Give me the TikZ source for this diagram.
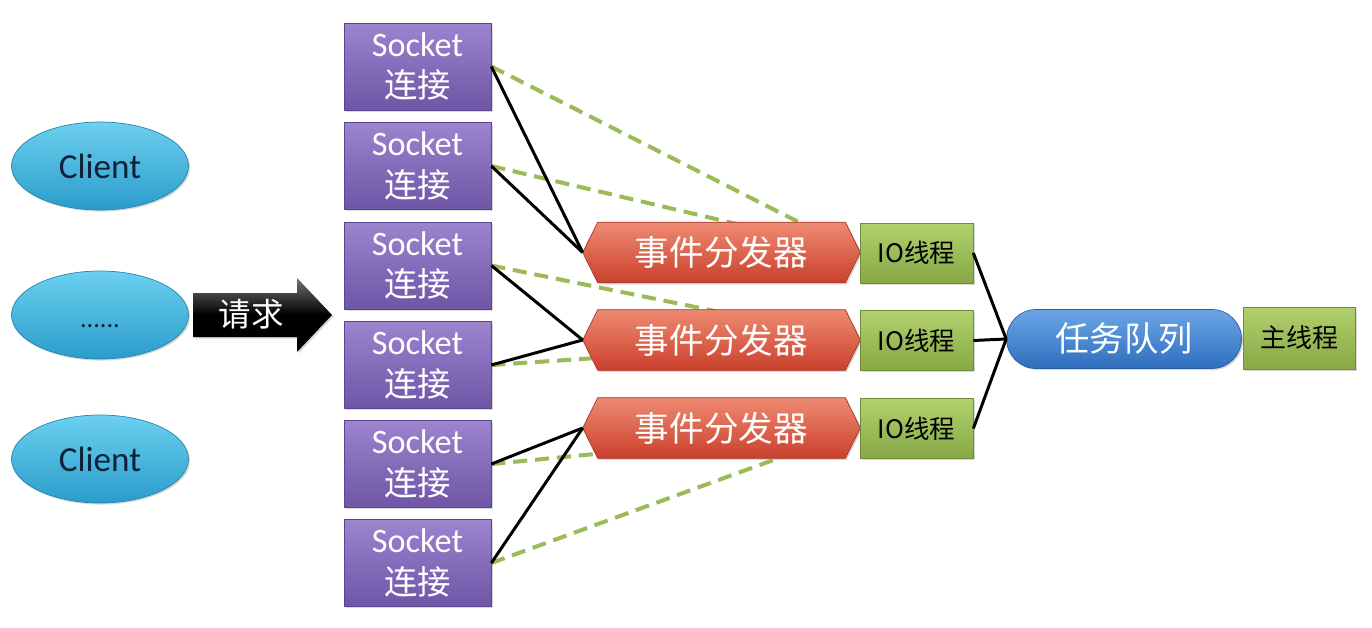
\documentclass[tikz,border=0pt]{standalone}
\usepackage{fontspec}
\setmainfont{Carlito}
\newfontfamily\cjk{Noto Sans CJK SC}
\usetikzlibrary{calc,backgrounds,shadows,shapes.geometric}
\definecolor{sockT}{HTML}{9C84CF}
\definecolor{sockB}{HTML}{6E55A6}
\definecolor{sockD}{HTML}{5A4690}
\definecolor{dispT}{HTML}{F08A72}
\definecolor{dispB}{HTML}{C9402C}
\definecolor{dispD}{HTML}{A8362A}
\definecolor{ioT}{HTML}{B2D06E}
\definecolor{ioB}{HTML}{86A845}
\definecolor{ioD}{HTML}{6F8C3A}
\definecolor{cliT}{HTML}{6CD0EE}
\definecolor{cliB}{HTML}{2A9CCB}
\definecolor{cliD}{HTML}{2486AE}
\definecolor{qT}{HTML}{6BA6E6}
\definecolor{qB}{HTML}{2F6EBE}
\definecolor{qD}{HTML}{2A5F9F}
\definecolor{dashG}{HTML}{9BBB59}
\definecolor{cliText}{HTML}{10203A}
\begin{document}
\begin{tikzpicture}[x=0.02cm,y=-0.02cm,
  shd/.style={drop shadow={shadow xshift=0.9pt,shadow yshift=-0.9pt,opacity=0.3}},
  sockbox/.style={rectangle,draw=sockD,line width=0.4pt,top color=sockT,bottom color=sockB,
    text=white,minimum width=2.94cm,minimum height=1.74cm,align=center,inner sep=0pt,shd,
    font=\fontsize{19.5}{23.5}\selectfont},
  iobox/.style={rectangle,draw=ioD,line width=0.4pt,top color=ioT,bottom color=ioB,
    text=black,minimum width=2.26cm,minimum height=1.2cm,inner sep=0pt,shd,
    font=\cjk\fontsize{14.5}{17}\selectfont},
  client/.style={ellipse,draw=cliD,line width=0.4pt,top color=cliT,bottom color=cliB,
    text=cliText,minimum width=3.54cm,minimum height=1.76cm,inner sep=0pt,shd,
    font=\fontsize{20}{24}\selectfont},
  dispnode/.style={rectangle,draw=none,minimum width=5.54cm,minimum height=1.2cm,inner sep=0pt,
    text=white,font=\cjk\fontsize{19.7}{23}\selectfont},
  dispfill/.style={draw=dispD,line width=0.4pt,top color=dispT,bottom color=dispB,shd},
  blk/.style={draw=black,line width=1.7pt},
  gdash/.style={draw=dashG,line width=2.3pt,dash pattern=on 8pt off 4.5pt}
]
\useasboundingbox (0,0) rectangle (1372,628);

% clients
\node[client] (c1) at (100,166) {Client};
\node[client] (c2) at (100,315) {\vphantom{Cl}\fontsize{15}{18}\selectfont ......};
\node[client] (c3) at (100,459) {Client};

% request arrow
\path[top color=black!55,bottom color=black,middle color=black,drop shadow={shadow xshift=0.9pt,shadow yshift=-0.9pt,opacity=0.3}]
  (193,293) -- (297,293) -- (297,278) -- (332,315) -- (297,352) -- (297,337) -- (193,337) -- cycle;
\node[text=white,font=\cjk\fontsize{18.5}{22}\selectfont] (req) at (251,314) {请求};

% sockets
\node[sockbox] (s1) at (417.5,66.5) {Socket\\{\cjk\fontsize{19}{23.5}\selectfont 连接}};
\node[sockbox] (s2) at (417.5,166) {Socket\\{\cjk\fontsize{19}{23.5}\selectfont 连接}};
\node[sockbox] (s3) at (417.5,265.5) {Socket\\{\cjk\fontsize{19}{23.5}\selectfont 连接}};
\node[sockbox] (s4) at (417.5,365) {Socket\\{\cjk\fontsize{19}{23.5}\selectfont 连接}};
\node[sockbox] (s5) at (417.5,464) {Socket\\{\cjk\fontsize{19}{23.5}\selectfont 连接}};
\node[sockbox] (s6) at (417.5,563) {Socket\\{\cjk\fontsize{19}{23.5}\selectfont 连接}};

% dispatchers (text nodes; shapes on background)
\node[dispnode] (d1) at (721.5,252.5) {事件分发器};
\node[dispnode] (d2) at (721.5,340) {事件分发器};
\node[dispnode] (d3) at (721.5,428) {事件分发器};

% IO threads
\node[iobox] (io1) at (916.5,253) {IO线程};
\node[iobox] (io2) at (916.5,340.5) {IO线程};
\node[iobox] (io3) at (916.5,428.5) {IO线程};

% task queue and main thread
\node[rectangle,rounded corners=0.59cm,draw=qD,line width=0.4pt,top color=qT,bottom color=qB,
  text=white,minimum width=4.7cm,minimum height=1.18cm,inner sep=0pt,shd,
  font=\cjk\fontsize{19.5}{23}\selectfont] (q) at (1124,339) {任务队列};
\node[iobox,minimum width=2.24cm,minimum height=1.24cm,font=\cjk\fontsize{14.8}{17}\selectfont] (m) at (1299,338) {主线程};

\begin{pgfonlayer}{background}
  \draw[gdash] (s1.east) -- (io1.west);
  \draw[gdash] (s2.east) -- (io1.west);
  \draw[gdash] (s3.east) -- (io2.west);
  \draw[gdash] (s4.east) -- (io2.west);
  \draw[gdash] (s5.east) -- (io3.west);
  \draw[gdash] (s6.east) -- (io3.west);
  \foreach \d in {d1,d2,d3}{
    \path[dispfill] (\d.west) -- ($(\d.north west)+(15,0)$) -- ($(\d.north east)+(-15,0)$)
      -- (\d.east) -- ($(\d.south east)+(-15,0)$) -- ($(\d.south west)+(15,0)$) -- cycle;
  }
\end{pgfonlayer}

% solid connectors
\draw[blk] (s1.east) -- (d1.west);
\draw[blk] (s2.east) -- (d1.west);
\draw[blk] (s3.east) -- (d2.west);
\draw[blk] (s4.east) -- (d2.west);
\draw[blk] (s5.east) -- (d3.west);
\draw[blk] (s6.east) -- (d3.west);
\draw[blk] (io1.east) -- (q.west);
\draw[blk] (io2.east) -- (q.west);
\draw[blk] (io3.east) -- (q.west);
\end{tikzpicture}
\end{document}
